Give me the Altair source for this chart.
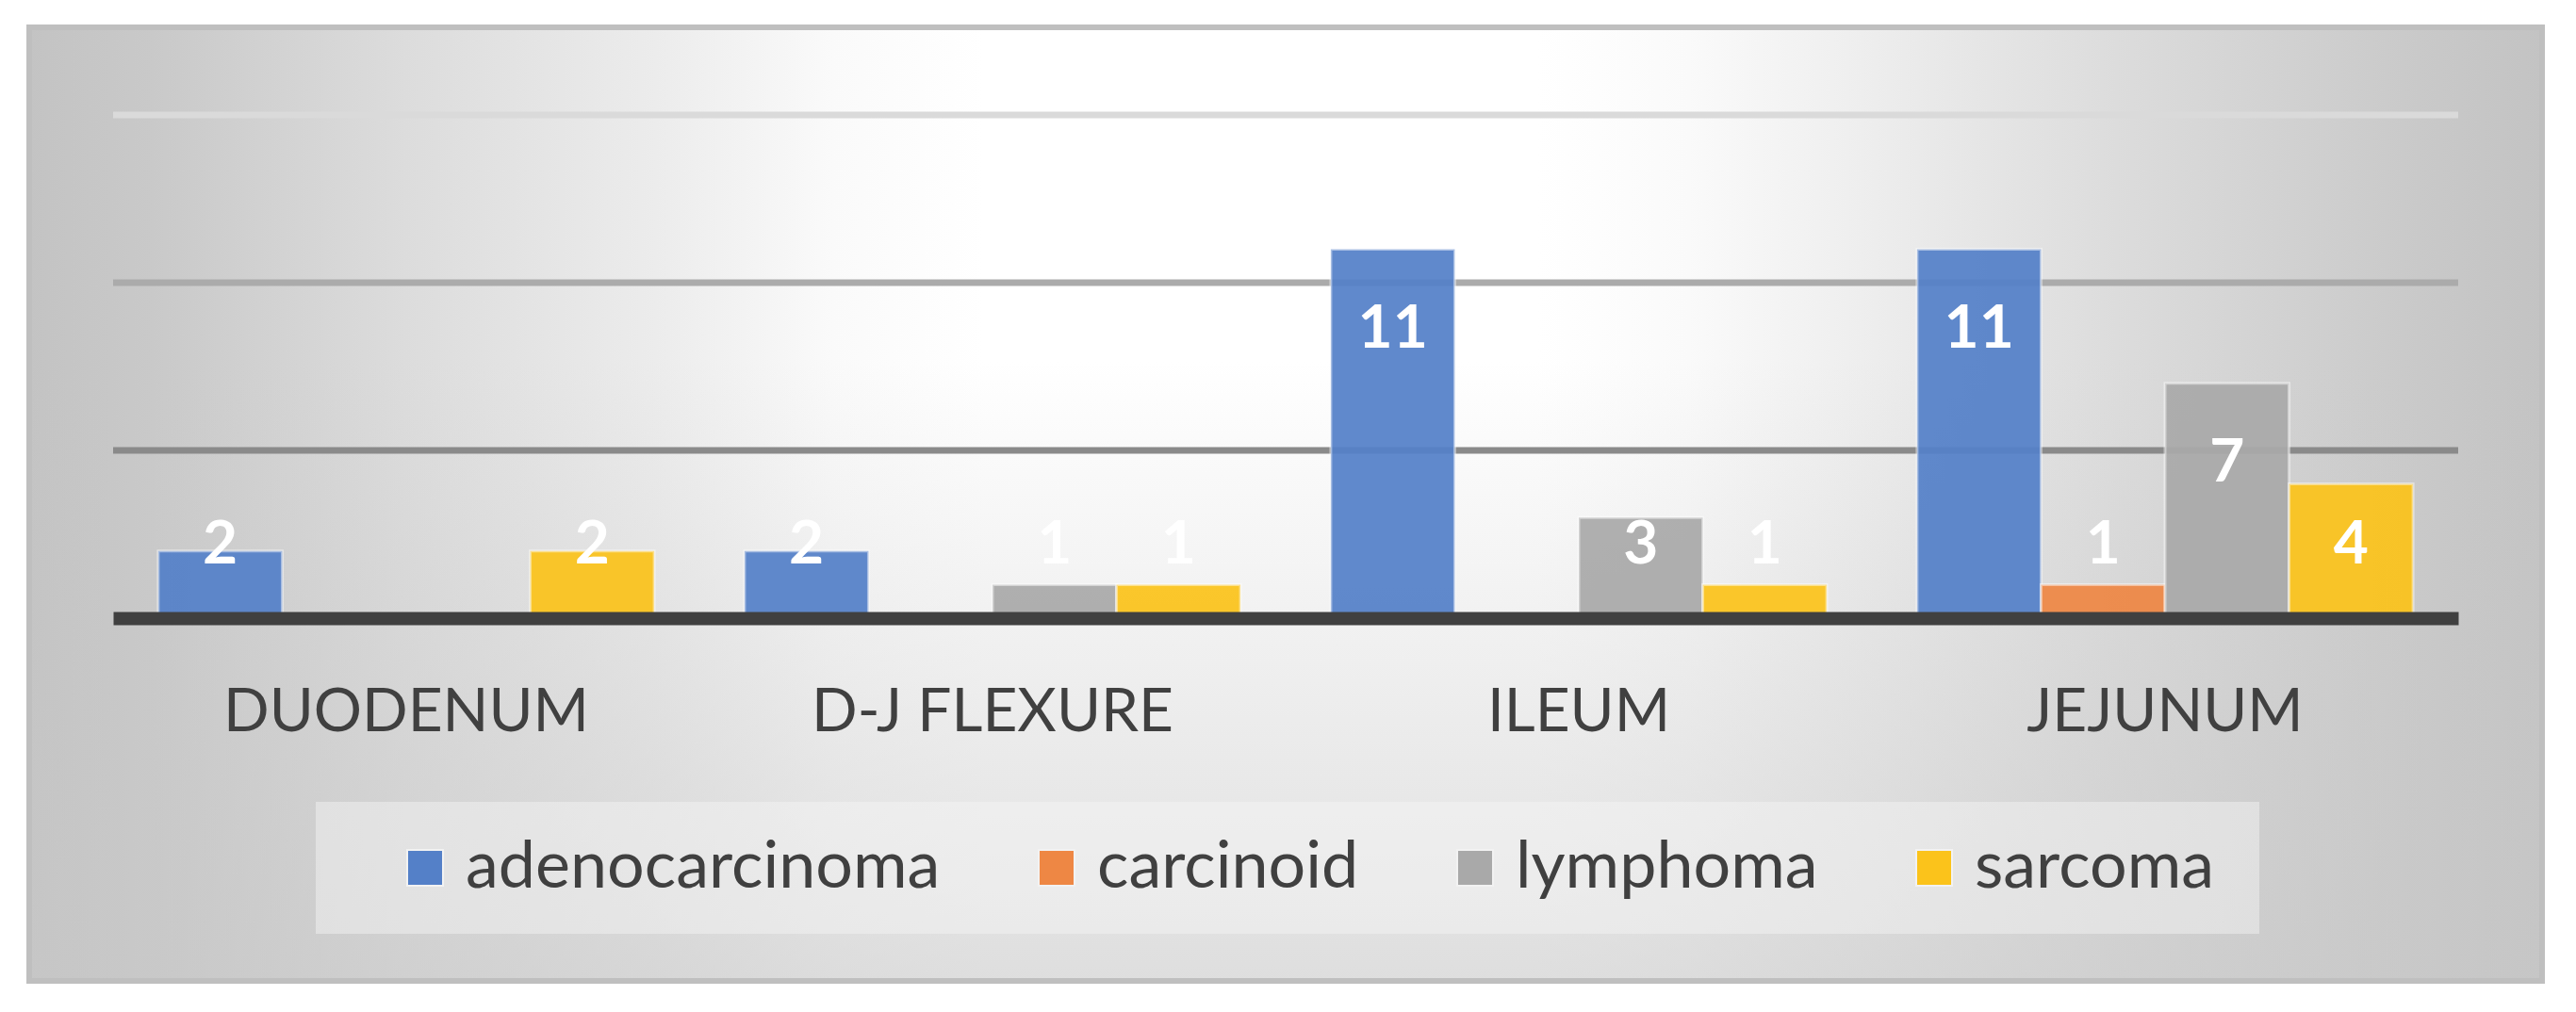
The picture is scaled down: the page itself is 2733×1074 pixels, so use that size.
import altair as alt
import pandas as pd

# ---- data ----
locations = ["DUODENUM", "D-J FLEXURE", "ILEUM", "JEJUNUM"]
tumour_types = ["adenocarcinoma", "carcinoid", "lymphoma", "sarcoma"]
adenocarcinoma = [2, 2, 11, 11]
carcinoid = [0, 0, 0, 1]
lymphoma = [0, 1, 3, 7]
sarcoma = [2, 1, 1, 4]
type_colors = ["#5480c8", "#ee8744", "#a9a9a9", "#fbc31b"]
grid_values = [5, 10, 15]
grid_colors = ["#8a8a8a", "#ababab", "#dadada"]

series = dict(zip(tumour_types, [adenocarcinoma, carcinoid, lymphoma, sarcoma]))
rows = []
for t in tumour_types:
    for loc, v in zip(locations, series[t]):
        if v > 0:
            rows.append({"location": loc, "type": t, "count": v})
df = pd.DataFrame(rows)
grid_df = pd.DataFrame({"v": grid_values})
decor = pd.DataFrame({"d": [0]})

W, H = 2488, 534
FONT = "Lato"

yscale = alt.Scale(domain=[0, 15], nice=False, zero=True)
xscale = alt.Scale(domain=locations, paddingInner=0.154, paddingOuter=0.077)
offscale = alt.Scale(domain=tumour_types, paddingInner=0, paddingOuter=0)

# ---- decorative background (Excel style) ----
grad_h = {
    "gradient": "linear", "x1": 0, "y1": 0, "x2": 1, "y2": 0,
    "stops": [
        {"offset": 0.0, "color": "#c3c3c3"},
        {"offset": 0.05, "color": "#c9c9c9"},
        {"offset": 0.15, "color": "#dcdcdc"},
        {"offset": 0.25, "color": "#ececec"},
        {"offset": 0.32, "color": "#fafafa"},
        {"offset": 0.38, "color": "#ffffff"},
        {"offset": 0.60, "color": "#ffffff"},
        {"offset": 0.66, "color": "#fafafa"},
        {"offset": 0.74, "color": "#ececec"},
        {"offset": 0.83, "color": "#dcdcdc"},
        {"offset": 0.95, "color": "#c9c9c9"},
        {"offset": 1.0, "color": "#c3c3c3"},
    ],
}
grad_v = {
    "gradient": "linear", "x1": 0, "y1": 0, "x2": 0, "y2": 1,
    "stops": [
        {"offset": 0.0, "color": "rgba(200,200,200,0)"},
        {"offset": 0.35, "color": "rgba(200,200,200,0)"},
        {"offset": 1.0, "color": "rgba(200,200,200,0.6)"},
    ],
}

bg = alt.Chart(decor).mark_rect(fill=grad_h).encode(
    x=alt.value(-92), x2=alt.value(2580), y=alt.value(-96), y2=alt.value(922)
)
shade = alt.Chart(decor).mark_rect(fill=grad_v).encode(
    x=alt.value(-92), x2=alt.value(2580), y=alt.value(-96), y2=alt.value(922)
)
border = alt.Chart(decor).mark_rect(
    fill="#ffffff", fillOpacity=0, stroke="#bfbfbf", strokeWidth=6
).encode(x=alt.value(-89), x2=alt.value(2577), y=alt.value(-93), y2=alt.value(919))
legend_box = alt.Chart(decor).mark_rect(fill="#f6f6f6", fillOpacity=0.45).encode(
    x=alt.value(215), x2=alt.value(2277), y=alt.value(729), y2=alt.value(869)
)

grid = alt.Chart(grid_df).mark_rule(strokeWidth=7).encode(
    y=alt.Y("v:Q", scale=yscale, axis=None),
    stroke=alt.Stroke("v:O", scale=alt.Scale(domain=grid_values, range=grid_colors), legend=None),
)

xaxis = alt.Axis(
    title=None, orient="bottom", domainColor="#404040", domainWidth=14, domainCap="butt",
    ticks=False, tickSize=0, labelFont=FONT, labelFontSize=64, labelColor="#404040",
    labelPadding=119, labelBaseline="alphabetic", labelAngle=0, zindex=1, labelLimit=1000,
)

bars = alt.Chart(df).mark_bar(
    fillOpacity=0.93, stroke="#ffffff", strokeOpacity=0.45, strokeWidth=3
).encode(
    x=alt.X("location:N", scale=xscale, axis=xaxis, sort=locations),
    xOffset=alt.XOffset("type:N", scale=offscale, sort=tumour_types),
    y=alt.Y("count:Q", scale=yscale, axis=None),
    color=alt.Color(
        "type:N",
        scale=alt.Scale(domain=tumour_types, range=type_colors),
        legend=alt.Legend(
            orient="none", legendX=296, legendY=764, direction="horizontal", columns=4,
            title=None, symbolType="square", symbolSize=1444, labelFont=FONT,
            labelFontSize=70, labelColor="#404040", labelOffset=8, columnPadding=88,
            padding=0, symbolStrokeColor="#f2f2f2", symbolStrokeWidth=2, gridAlign="none",
            labelLimit=0, symbolOpacity=1,
        ),
    ),
)

labels = alt.Chart(df).transform_calculate(
    labelpos="max(datum.count - 2.4, 2.15)"
).mark_text(
    font=FONT, fontSize=64, fontWeight="bold", color="#ffffff", baseline="middle", align="center"
).encode(
    x=alt.X("location:N", scale=xscale, axis=xaxis, sort=locations),
    xOffset=alt.XOffset("type:N", scale=offscale, sort=tumour_types),
    y=alt.Y("labelpos:Q", scale=yscale, axis=None),
    text=alt.Text("count:Q"),
)

chart = alt.layer(bg, shade, border, legend_box, grid, bars, labels).properties(
    width=W, height=H,
    autosize=alt.AutoSizeParams(type="none"),
    padding={"left": 112, "top": 114, "right": 117, "bottom": 410},
    background="#ffffff",
).configure_view(stroke=None)

chart.save("out.html", embed_options={"renderer": "svg", "actions": False})
